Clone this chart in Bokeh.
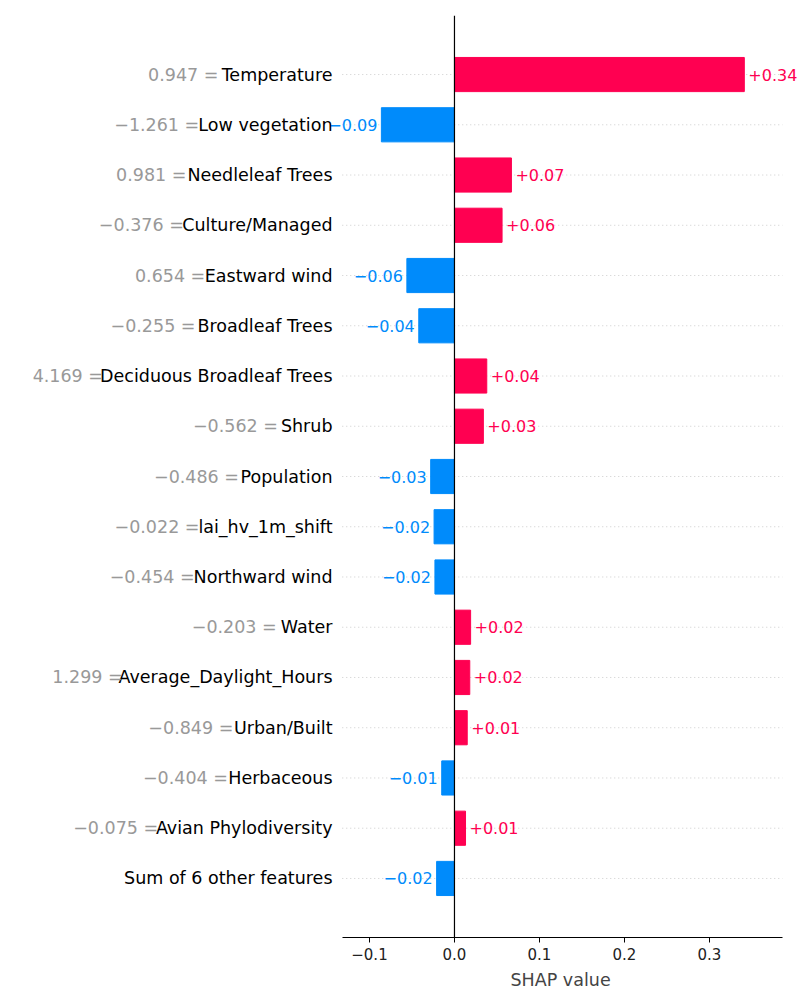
from bokeh.plotting import figure
from bokeh.models import Range1d, Span, FixedTicker, CustomJSTickFormatter, Title
from bokeh.core.properties import value
from bokeh.embed import file_html
from bokeh.resources import INLINE

features = ["Temperature", "Low vegetation", "Needleleaf Trees", "Culture/Managed",
            "Eastward wind", "Broadleaf Trees", "Deciduous Broadleaf Trees", "Shrub",
            "Population", "lai_hv_1m_shift", "Northward wind", "Water",
            "Average_Daylight_Hours", "Urban/Built", "Herbaceous", "Avian Phylodiversity",
            "Sum of 6 other features"]
feature_values = ["0.947", "\u22121.261", "0.981", "\u22120.376", "0.654", "\u22120.255",
                  "4.169", "\u22120.562", "\u22120.486", "\u22120.022", "\u22120.454",
                  "\u22120.203", "1.299", "\u22120.849", "\u22120.404", "\u22120.075", ""]
shap_values = [0.341, -0.086, 0.067, 0.056, -0.056, -0.042, 0.038, 0.034, -0.028,
               -0.024, -0.023, 0.019, 0.018, 0.015, -0.015, 0.013, -0.021]
x_ticks = [-0.1, 0.0, 0.1, 0.2, 0.3]

RED = "#FF0051"
BLUE = "#008BFB"
FONT = "DejaVu Sans"
NAME_PX = 17.5

W = {'a': .613, 'b': .635, 'c': .550, 'd': .635, 'e': .615, 'f': .352, 'g': .635, 'h': .634,
     'i': .278, 'l': .278, 'm': .974, 'n': .634, 'o': .612, 'p': .635, 'r': .411, 's': .521,
     't': .392, 'u': .634, 'v': .592, 'w': .818, 'y': .592, '_': .500, '/': .337,
     'A': .684, 'B': .686, 'C': .698, 'D': .770, 'E': .632, 'H': .752, 'L': .557, 'M': .863,
     'N': .748, 'P': .603, 'S': .635, 'T': .611, 'U': .732, 'W': .989, ' ': .318}


def text_width(s):
    return sum(W.get(ch, .62) for ch in s) * NAME_PX * 0.95


n = len(features)
ys = list(range(n))
p = figure(width=800, height=1000, output_backend="svg", toolbar_location=None,
           x_range=Range1d(-0.5341, 0.4071), y_range=Range1d(n - 1 + 1.175, -1.175),
           min_border_left=0, min_border_right=0, min_border_top=15, min_border_bottom=63)
p.outline_line_color = None
p.xgrid.visible = False
p.ygrid.visible = False
p.yaxis.visible = False
p.background_fill_color = None
p.border_fill_color = "white"

x0, x1 = -0.132, 0.386
p.segment(x0=[x0] * n, x1=[x1] * n, y0=ys, y1=ys, line_color="#cccccc",
          line_dash="1 3", line_width=1)

colors = [RED if v > 0 else BLUE for v in shap_values]
p.hbar(y=ys, left=0, right=shap_values, height=0.68, fill_color=colors, line_color=colors)

p.add_layout(Span(location=0, dimension="height", line_color="black", line_width=1.2))

ax = p.xaxis[0]
ax.bounds = (x0, x1)
ax.ticker = FixedTicker(ticks=x_ticks)
ax.formatter = CustomJSTickFormatter(code="return tick.toFixed(1).replace('-', '\u2212');")
ax.major_label_text_font = FONT
ax.major_label_text_font_size = "15px"
ax.major_label_text_color = "#222222"
ax.minor_tick_line_color = None
ax.major_tick_out = 5
ax.major_tick_in = 0
p.add_layout(Title(text="SHAP value", align="left", offset=510, text_font=FONT,
                   text_font_size="17.5px", text_font_style="normal"), "below")

# value labels
pos_i = [i for i in ys if shap_values[i] > 0]
neg_i = [i for i in ys if shap_values[i] <= 0]
fmt = lambda v: ("+%.2f" % v) if v > 0 else ("\u2212%.2f" % abs(v))
p.text(x=[shap_values[i] for i in pos_i], y=pos_i, text=[fmt(shap_values[i]) for i in pos_i],
       x_offset=4, text_align="left", text_baseline="middle", text_color=RED,
       text_font=value(FONT), text_font_size="16px")
p.text(x=[shap_values[i] for i in neg_i], y=neg_i, text=[fmt(shap_values[i]) for i in neg_i],
       x_offset=-4, text_align="right", text_baseline="middle", text_color=BLUE,
       text_font=value(FONT), text_font_size="16px")

# feature labels
lx = -0.1435
p.text(x=[lx] * n, y=ys, text=features, text_align="right", text_baseline="middle",
       text_color="black", text_font=value(FONT), text_font_size="%spx" % NAME_PX)
gv = [(fv + " = ") if fv else "" for fv in feature_values]
p.text(x=[lx] * n, y=ys, text=gv, x_offset=[-text_width(f) for f in features],
       text_align="right", text_baseline="middle", text_color="#999999",
       text_font=value(FONT), text_font_size="%spx" % NAME_PX)

open("out.html", "w").write(file_html(p, INLINE))
